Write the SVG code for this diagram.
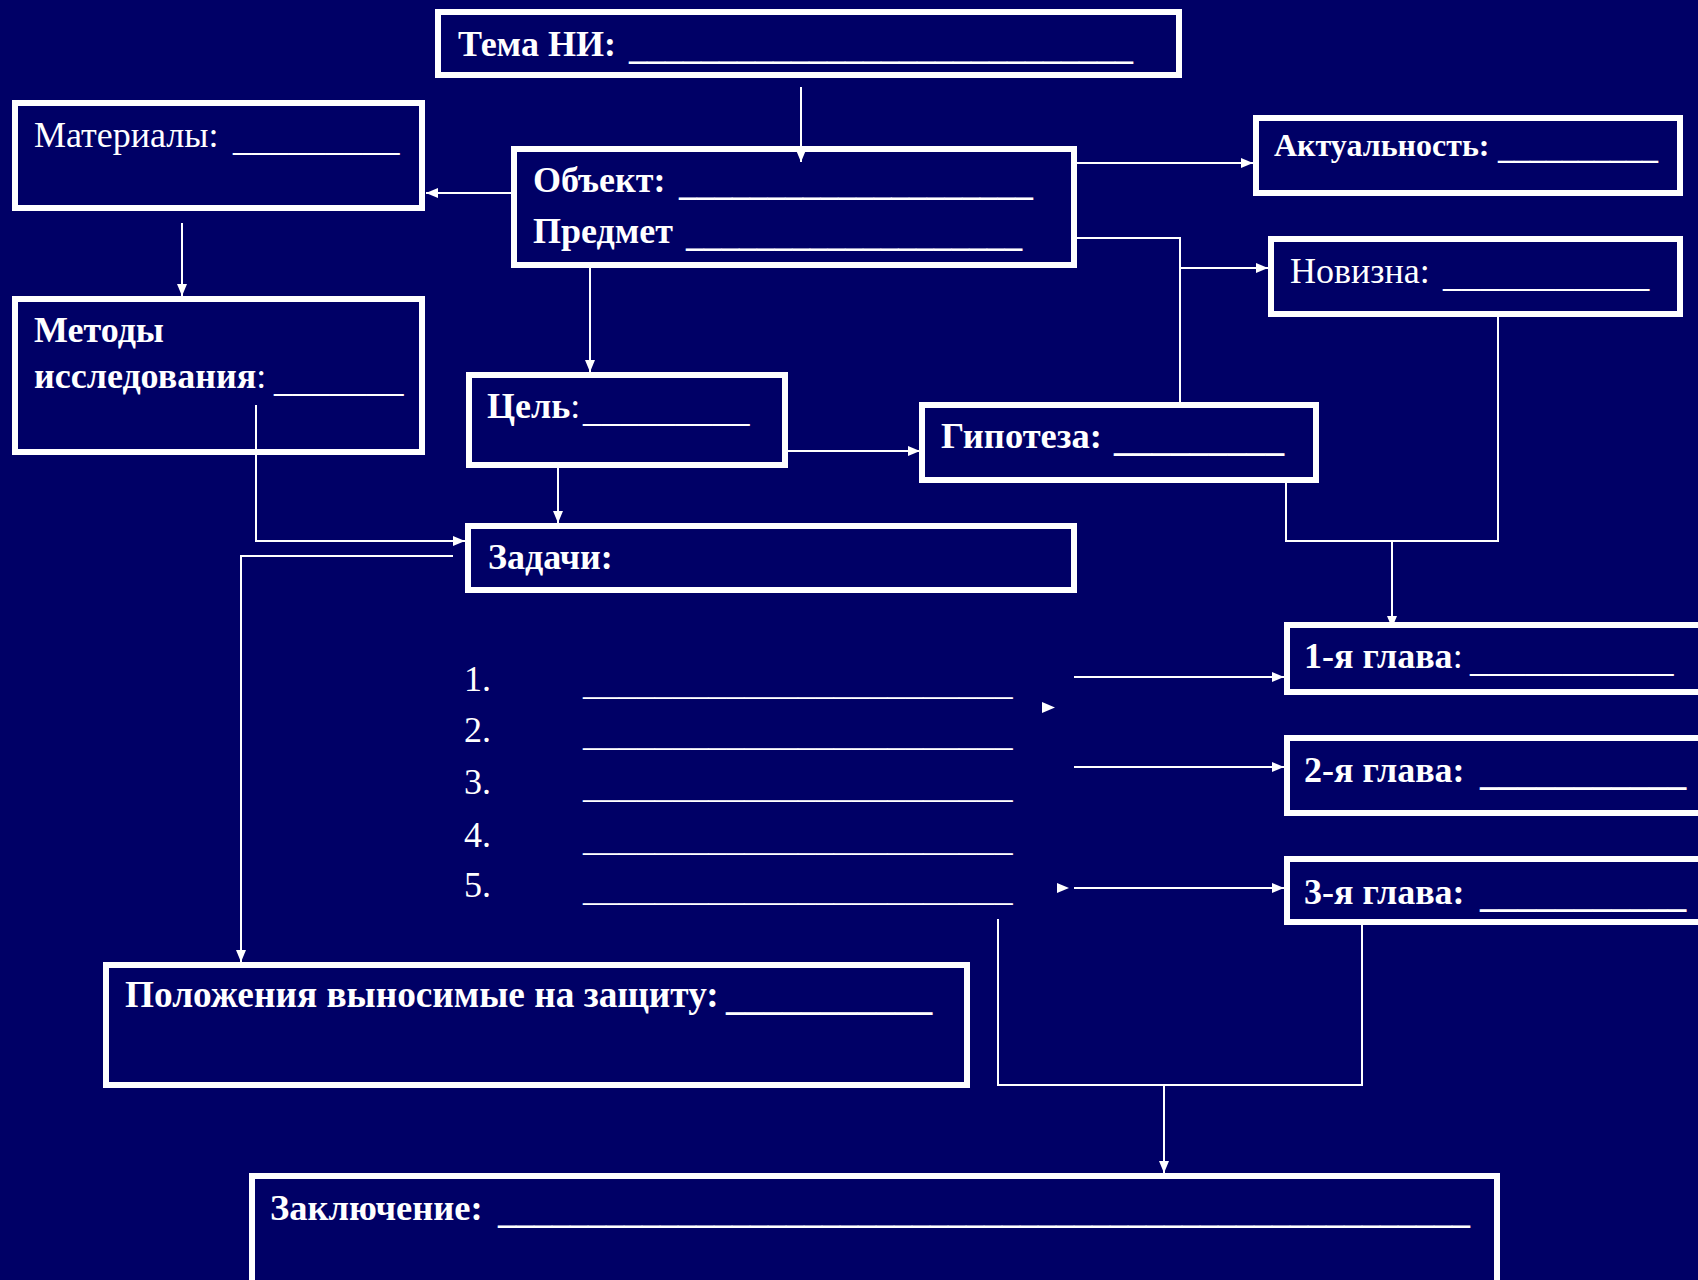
<svg xmlns="http://www.w3.org/2000/svg" width="1698" height="1280" viewBox="0 0 1698 1280">
<defs>
<style>
.box{fill:none;stroke:#ffffff;stroke-width:6}
.t{font-family:"Liberation Serif","Times New Roman",serif;font-size:36px;fill:#ffffff}
.b{font-weight:bold}
.n{font-weight:normal}
.c{fill:none;stroke:#ffffff;stroke-width:2}
.ah{fill:#ffffff}
</style>
<marker id="arr" markerUnits="userSpaceOnUse" markerWidth="12" markerHeight="10" viewBox="0 0 12 10" refX="12" refY="5" orient="auto">
<path d="M0,0 L12,5 L0,10 z" fill="#ffffff"/>
</marker>
</defs>
<rect x="0" y="0" width="1698" height="1280" fill="#000066"/>

<g id="connectors">
<path class="c" d="M801,87 V162" marker-end="url(#arr)"/>
<path class="c" d="M511,193 H426" marker-end="url(#arr)"/>
<path class="c" d="M182,223 V296" marker-end="url(#arr)"/>
<path class="c" d="M590,268 V372" marker-end="url(#arr)"/>
<path class="c" d="M256,405 V541 H465" marker-end="url(#arr)"/>
<path class="c" d="M558,468 V523" marker-end="url(#arr)"/>
<path class="c" d="M788,451 H920" marker-end="url(#arr)"/>
<path class="c" d="M1077,163 H1253" marker-end="url(#arr)"/>
<path class="c" d="M1077,238 H1180 V402"/>
<path class="c" d="M1180,268 H1268" marker-end="url(#arr)"/>
<path class="c" d="M1286,483 V541 H1498 V317"/>
<path class="c" d="M1392,541 V628" marker-end="url(#arr)"/>
<path class="c" d="M453,556 H241 V962" marker-end="url(#arr)"/>
<path class="c" d="M1074,677 H1284" marker-end="url(#arr)"/>
<path class="c" d="M1074,767 H1284" marker-end="url(#arr)"/>
<path class="c" d="M1074,888 H1284" marker-end="url(#arr)"/>
<polygon class="ah" points="1042,702 1055,707.5 1042,713"/>
<polygon class="ah" points="1057,883 1069,888 1057,893"/>
<path class="c" d="M998,919 V1085 H1362 V925"/>
<path class="c" d="M1164,1085 V1173" marker-end="url(#arr)"/>
</g>

<g id="tema">
<rect class="box" x="438" y="12" width="741" height="63"/>
<text class="t b" x="458" y="56">Тема НИ: <tspan x="629" dy="3">____________________________</tspan></text>
</g>

<g id="materialy">
<rect class="box" x="15" y="103" width="407" height="105"/>
<text class="t" x="34" y="147">Материалы: <tspan x="233" dy="3" font-size="37">_________</tspan></text>
</g>

<g id="obekt">
<rect class="box" x="514" y="149" width="560" height="116"/>
<text class="t b" x="533" y="192">Объект: <tspan x="679" dy="3" font-size="35.4">____________________</tspan></text>
<text class="t b" x="533" y="243">Предмет <tspan x="686" dy="3" font-size="35.4">___________________</tspan></text>
</g>

<g id="metody">
<rect class="box" x="15" y="299" width="407" height="153"/>
<text class="t b" x="34" y="342">Методы</text>
<text class="t b" x="34" y="388">исследования<tspan class="n">:</tspan><tspan class="n" x="274" dy="3" font-size="37">_______</tspan></text>
</g>

<g id="cel">
<rect class="box" x="469" y="375" width="316" height="90"/>
<text class="t b" x="487" y="418">Цель<tspan class="n">:</tspan><tspan class="n" x="583" dy="3" font-size="37">_________</tspan></text>
</g>

<g id="aktualnost">
<rect class="box" x="1256" y="118" width="424" height="75"/>
<text class="t b" x="1274" y="156" style="font-size:32px">Актуальность: <tspan x="1498" dy="3">__________</tspan></text>
</g>

<g id="novizna">
<rect class="box" x="1271" y="239" width="409" height="75"/>
<text class="t" x="1290" y="283">Новизна: <tspan x="1443" dy="3" font-size="37.5">___________</tspan></text>
</g>

<g id="gipoteza">
<rect class="box" x="922" y="405" width="394" height="75"/>
<text class="t b" x="941" y="448" style="font-size:36.5px">Гипотеза: <tspan x="1114" dy="3" font-size="37.8">_________</tspan></text>
</g>

<g id="zadachi">
<rect class="box" x="468" y="526" width="606" height="64"/>
<text class="t b" x="488" y="569">Задачи:</text>
</g>

<g id="zadachi-list">
<text class="t" x="464" y="691">1.<tspan x="583" dy="3" font-size="35.8">________________________</tspan></text>
<text class="t" x="464" y="742">2.<tspan x="583" dy="3" font-size="35.8">________________________</tspan></text>
<text class="t" x="464" y="794">3.<tspan x="583" dy="3" font-size="35.8">________________________</tspan></text>
<text class="t" x="464" y="847">4.<tspan x="583" dy="3" font-size="35.8">________________________</tspan></text>
<text class="t" x="464" y="897">5.<tspan x="583" dy="3" font-size="35.8">________________________</tspan></text>
</g>

<g id="glava1">
<rect class="box" x="1287" y="625" width="450" height="67"/>
<text class="t b" x="1304" y="668">1-я глава<tspan class="n">:</tspan><tspan class="n" x="1470" dy="3" font-size="37">___________</tspan></text>
</g>

<g id="glava2">
<rect class="box" x="1287" y="738" width="450" height="75"/>
<text class="t b" x="1304" y="782">2-я глава: <tspan x="1480" dy="3" font-size="37.5">___________</tspan></text>
</g>

<g id="glava3">
<rect class="box" x="1287" y="859" width="450" height="63"/>
<text class="t b" x="1304" y="904">3-я глава: <tspan x="1480" dy="3" font-size="37.5">___________</tspan></text>
</g>

<g id="polozheniya">
<rect class="box" x="106" y="965" width="861" height="120"/>
<text class="t b" x="125" y="1007" style="font-size:37.3px">Положения выносимые на защиту: <tspan x="726" dy="3" font-size="37.5">___________</tspan></text>
</g>

<g id="zaklyuchenie">
<rect class="box" x="252" y="1176" width="1245" height="120"/>
<text class="t b" x="270" y="1220" style="font-size:36.5px">Заключение: <tspan x="498" dy="3" font-size="36">______________________________________________________</tspan></text>
</g>
</svg>
